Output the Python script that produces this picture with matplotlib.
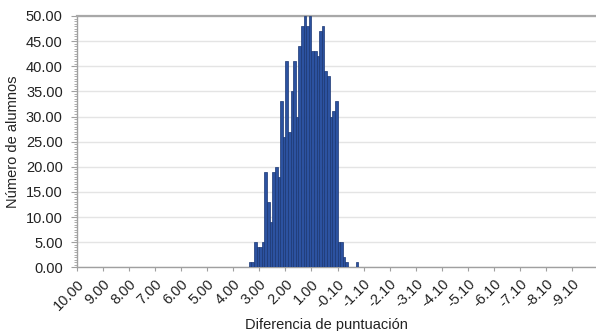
import numpy as np
import matplotlib.pyplot as plt
from matplotlib.ticker import MultipleLocator

plt.rcParams['font.family'] = ['Liberation Sans', 'DejaVu Sans']

# ============================================
# DATOS
# ============================================

# número total de categorías (paso de 0.1 puntos)
n_bins = 200

# primera categoría con alumnos
first_bin = 66

# número de alumnos por categoría, desde first_bin
counts = [1, 1, 5, 4, 4, 5, 19, 13, 9, 19,
          20, 18, 33, 26, 41, 27, 35, 41, 30, 44,
          48, 50, 48, 50, 43, 43, 42, 47, 48, 39,
          38, 30, 31, 33, 5, 5, 2, 1, 0, 0,
          0, 1]

# etiquetas del eje x (una cada 10 categorías)
x_labels = ["10.00", "9.00", "8.00", "7.00", "6.00", "5.00", "4.00",
            "3.00", "2.00", "1.00", "-0.10", "-1.10", "-2.10", "-3.10",
            "-4.10", "-5.10", "-6.10", "-7.10", "-8.10", "-9.10"]

# ============================================
# FIGURA
# ============================================

fig = plt.figure(figsize=(5.96, 3.31), dpi=100)
ax = fig.add_axes([0.1287, 0.1924, 0.8752, 0.7593])

pos = first_bin + np.arange(len(counts)) + 0.5

ax.bar(
    pos,
    counts,
    width=1.0,
    color="#2c52a0",
    edgecolor="#1a3672",
    linewidth=0.5,
    zorder=3
)

ax.set_xlim(0, n_bins)
ax.set_ylim(0, 50)

# rejilla horizontal
ax.yaxis.set_minor_locator(MultipleLocator(0.5))
ax.grid(axis="y", color="#e4e4e4", linewidth=1.0, zorder=0)
ax.set_yticks(np.arange(0, 51, 5))
ax.set_yticklabels([f"{v:.2f}" for v in np.arange(0, 51, 5)])

ax.set_xticks(np.arange(0, n_bins, 10))
ax.set_xticklabels(
    x_labels,
    rotation=45,
    ha="right",
    va="top",
    rotation_mode="anchor"
)

ax.tick_params(axis="y", which="major", length=4, color="#a0a0a0",
               labelsize=10.5, pad=6, labelcolor="#222222")
ax.tick_params(axis="y", which="minor", length=2, color="#a0a0a0")
ax.tick_params(axis="x", which="major", length=3, color="#a0a0a0",
               labelsize=10.5, pad=4, labelcolor="#222222")

for s in ["left", "bottom"]:
    ax.spines[s].set_color("#a0a0a0")
    ax.spines[s].set_linewidth(1.0)
ax.spines["top"].set_color("#a8a8a8")
ax.spines["top"].set_linewidth(1.6)
ax.spines["right"].set_visible(False)

fig.text(0.022, 0.571, "Número de alumnos", rotation=90,
         ha="center", va="center", fontsize=10.5, color="#222222")
fig.text(0.547, 0.018, "Diferencia de puntuación",
         ha="center", va="center", fontsize=10.5, color="#222222")

plt.savefig("out.png", dpi=100)
